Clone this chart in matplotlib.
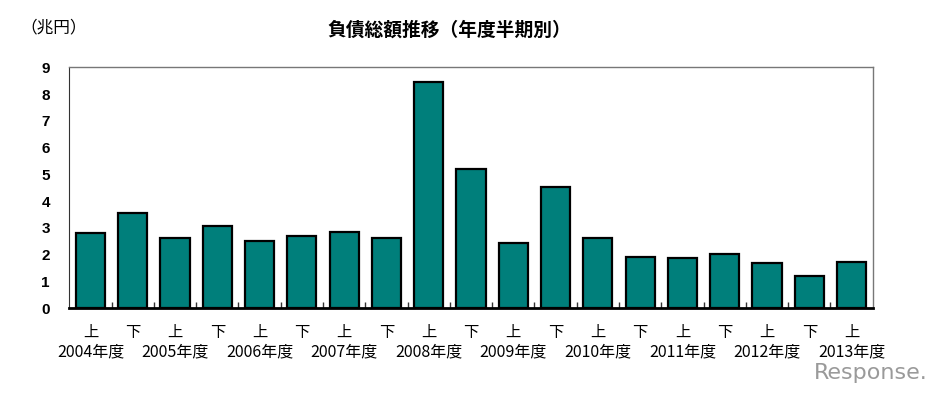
import matplotlib
matplotlib.use("Agg")
import matplotlib.pyplot as plt
import numpy as np

plt.rcParams['font.family'] = ['Noto Sans CJK JP', 'DejaVu Sans']

halves = ["上", "下"] * 9 + ["上"]
years = ["2004年度", "2005年度", "2006年度", "2007年度", "2008年度",
         "2009年度", "2010年度", "2011年度", "2012年度", "2013年度"]
values = [2.82, 3.56, 2.64, 3.08, 2.52, 2.71, 2.86, 2.63, 8.45, 5.21,
          2.45, 4.54, 2.61, 1.90, 1.87, 2.02, 1.69, 1.19, 1.74]
yticks = list(range(0, 10))

W, H = 941, 394
fig = plt.figure(figsize=(W / 100, H / 100), dpi=100)
ax = fig.add_axes([69.3/W, 1-308.3/H, (872.7-69.3)/W, (308.3-67.3)/H])

x = np.arange(len(values))
ax.bar(x, values, width=0.69, color="#007f7b", edgecolor="black", linewidth=1.6, zorder=3)
ax.set_xlim(-0.5, len(values) - 0.5)
ax.set_ylim(0, 9)
ax.set_yticks(yticks)
ax.set_yticklabels([str(t) for t in yticks], fontsize=11, fontweight="bold",
                   family=["Liberation Sans", "DejaVu Sans"])
ax.tick_params(axis="y", length=0, pad=14)

# boundary ticks on x axis (inward)
ax.set_xticks(np.arange(0.5, len(values) - 0.5, 1.0))
ax.set_xticklabels([])
ax.tick_params(axis="x", direction="in", length=4, width=1, color="#333333")

for s in ["top", "right"]:
    ax.spines[s].set_color("#777777")
    ax.spines[s].set_linewidth(1)
ax.spines["left"].set_color("#333333")
ax.spines["bottom"].set_color("black")
ax.spines["bottom"].set_linewidth(2)

# half labels
for i, h in enumerate(halves):
    ax.text(i, -0.91, h, ha="center", va="center", fontsize=11,
            transform=ax.transData, clip_on=False)
# year labels, centered under the first-half bar
for j, y in enumerate(years):
    ax.text(2 * j, -1.62, y, ha="center", va="center", fontsize=11.5,
            transform=ax.transData, clip_on=False)

fig.text(449/W, 1-30/H, "負債総額推移（年度半期別）", ha="center", va="center",
         fontsize=13.5, fontweight="bold")
fig.text(54/W, 1-28/H, "（兆円）", ha="center", va="center", fontsize=12)
fig.text(871/W, 1-373/H, "Response.", ha="center", va="center", fontsize=16,
         color="#9a9a9a", family=["DejaVu Sans"])

fig.savefig("out.png", dpi=100)
